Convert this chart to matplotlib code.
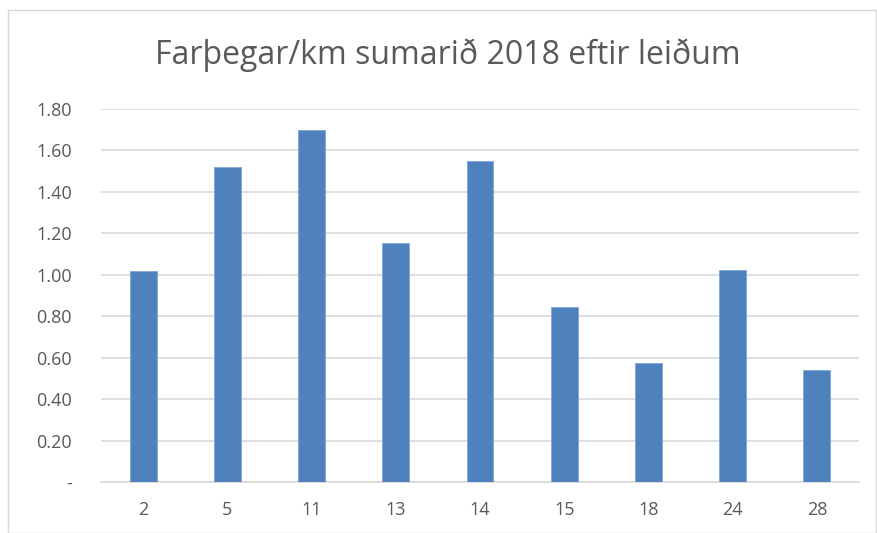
import numpy as np
from matplotlib import pyplot as plt
from matplotlib.patches import Rectangle

routes = ['2', '5', '11', '13', '14', '15', '18', '24', '28']
passengers_per_km = [1.016, 1.52, 1.70, 1.151, 1.549, 0.843, 0.573, 1.022, 0.54]
y_ticks = [0.0, 0.2, 0.4, 0.6, 0.8, 1.0, 1.2, 1.4, 1.6, 1.8]

plt.rcParams['font.family'] = ['Open Sans', 'DejaVu Sans']

fig = plt.figure(figsize=(8.78, 5.33), dpi=100)
ax = fig.add_axes([101 / 878, 1 - 482 / 533, (859 - 101) / 878, (482 - 109) / 533])

# light frame around the chart
fig.patches.append(Rectangle((8 / 878, 0), 868 / 878, 1 - 10 / 533, transform=fig.transFigure,
                             fill=False, edgecolor='#d9d9d9', linewidth=1))

x = np.arange(len(routes))
ax.bar(x, passengers_per_km, width=0.32, color='#4f81bd', edgecolor='#7ea6d8', linewidth=0.6, zorder=3)

ax.set_xlim(-0.5, len(routes) - 0.5)
ax.set_ylim(0, 1.8)
ax.set_yticks(y_ticks)
ax.set_yticklabels(['-' if v == 0 else f'{v:.2f}' for v in y_ticks])
ax.set_xticks(x)
ax.set_xticklabels(routes)

ax.grid(axis='y', color='#d9d9d9', linewidth=1.2, zorder=0)
for side in ['top', 'right', 'left']:
    ax.spines[side].set_visible(False)
ax.spines['bottom'].set_color('#d9d9d9')
ax.spines['bottom'].set_linewidth(1.2)
ax.tick_params(length=0, labelsize=13, colors='#595959')
ax.tick_params(axis='y', pad=21)
ax.tick_params(axis='x', pad=14)

fig.text(448 / 878, 1 - 55 / 533, 'Farþegar/km sumarið 2018 eftir leiðum', ha='center', va='center',
         fontsize=23, color='#595959')

fig.savefig('out.png')
